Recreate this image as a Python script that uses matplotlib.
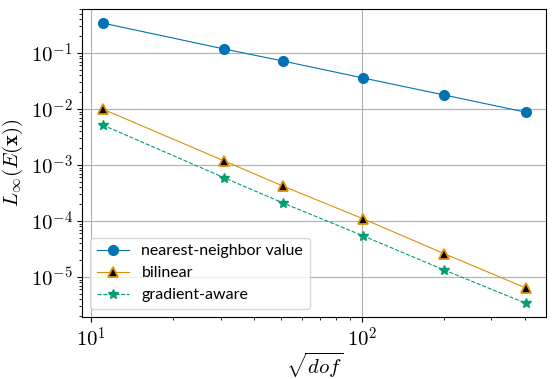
import matplotlib
matplotlib.use('Agg')
import matplotlib.pyplot as plt
from matplotlib.ticker import FuncFormatter
import numpy as np

plt.rcParams['mathtext.fontset'] = 'cm'
plt.rcParams['font.family'] = 'Lato'

sqrt_dof = [11, 31, 51, 101, 201, 401]
nearest = [0.344, 0.118, 0.072, 0.0358, 0.0178, 0.0088]
bilinear = [0.0100, 1.18e-3, 4.2e-4, 1.09e-4, 2.6e-5, 6.4e-6]
gradient = [5.2e-3, 5.9e-4, 2.1e-4, 5.4e-5, 1.33e-5, 3.4e-6]

fig, ax = plt.subplots(figsize=(5.56, 3.79), dpi=100)

ax.loglog(sqrt_dof, nearest, '-o', color='#0173B2', lw=0.8, ms=7,
          label='nearest-neighbor value')
ax.loglog(sqrt_dof, bilinear, '-^', color='#DE8F05', lw=0.8, ms=7,
          markerfacecolor='black', markeredgecolor='#DE8F05', markeredgewidth=1.3,
          label='bilinear')
ax.loglog(sqrt_dof, gradient, '--*', color='#029E73', lw=0.8, ms=7,
          label='gradient-aware')

ax.set_xlim(9.26, 477)
ax.set_ylim(1.94e-6, 0.61)
ax.grid(True, which='major', color='#b0b0b0', lw=0.8)
ax.set_axisbelow(True)

def pow10(v, pos):
    return r'$10^{%d}$' % int(round(np.log10(v)))

ax.xaxis.set_major_formatter(FuncFormatter(pow10))
ax.yaxis.set_major_formatter(FuncFormatter(pow10))

ax.set_xlabel(r'$\sqrt{dof}$', fontsize=15, labelpad=0)
ax.set_ylabel(r'$L_\infty(E(\mathbf{x}))$', fontsize=15, labelpad=4)
ax.tick_params(axis='both', which='major', labelsize=15)

ax.legend(loc='lower left', fontsize=11.5)

plt.subplots_adjust(left=0.148, right=0.982, top=0.976, bottom=0.164)
plt.savefig('out.png')
